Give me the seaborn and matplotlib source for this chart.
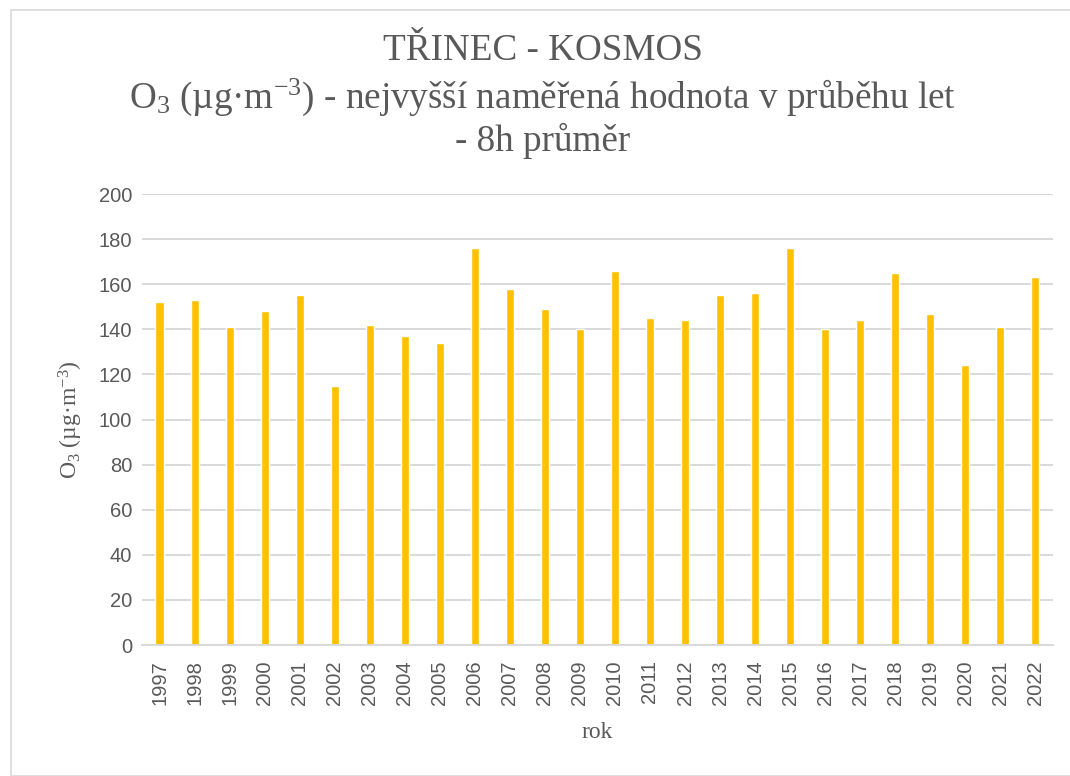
import pandas as pd
import seaborn as sns
import matplotlib.pyplot as plt
from matplotlib.patches import Rectangle

# data
years = [str(y) for y in range(1997, 2023)]
o3_max = [152, 153, 141, 148, 155, 115, 142, 137, 134, 176, 158, 149, 140,
          166, 145, 144, 155, 156, 176, 140, 144, 165, 147, 124, 141, 163]
y_ticks = [0, 20, 40, 60, 80, 100, 120, 140, 160, 180, 200]

df = pd.DataFrame({'rok': years, 'o3': o3_max})

sns.set_style('white')
plt.rcParams['font.family'] = ['Liberation Sans', 'DejaVu Sans']
plt.rcParams['mathtext.fontset'] = 'custom'
plt.rcParams['mathtext.rm'] = 'Liberation Serif'
plt.rcParams['mathtext.it'] = 'Liberation Serif:italic'

fig = plt.figure(figsize=(10.7, 7.76), dpi=100)
ax = fig.add_axes([0.1327, 0.1688, 0.8513, 0.5812])

sns.barplot(data=df, x='rok', y='o3', color='#FFC000', width=0.23,
            saturation=1, ax=ax)

ax.set_ylim(0, 200)
ax.set_yticks(y_ticks)
ax.yaxis.grid(True, color='#d9d9d9', linewidth=1.4)
ax.set_axisbelow(True)
for s in ['top', 'right', 'left']:
    ax.spines[s].set_visible(False)
ax.spines['bottom'].set_color('#d9d9d9')
ax.spines['bottom'].set_linewidth(1.4)
ax.tick_params(axis='both', length=0, labelsize=14.5, colors='#595959')
ax.tick_params(axis='y', pad=7)
ax.tick_params(axis='x', rotation=90, pad=11)

serif = ['Liberation Serif', 'DejaVu Serif']
ax.set_xlabel('rok', family=serif, fontsize=17, color='#595959', labelpad=12)
ax.set_ylabel(r'O$_3$ (µg·m$^{-3}$)', family=serif, fontsize=17,
              color='#595959', labelpad=10)

# title in three lines, centred a bit right of the figure centre
tx = 0.507
fig.text(tx, 0.935, 'TŘINEC - KOSMOS', ha='center', va='center',
         family=serif, fontsize=26.7, color='#595959')
fig.text(tx, 0.875, r'O$_3$ (µg·m$^{-3}$) - nejvyšší naměřená hodnota v průběhu let',
         ha='center', va='center', family=serif, fontsize=26.7, color='#595959')
fig.text(tx, 0.818, '- 8h průměr', ha='center', va='center',
         family=serif, fontsize=26.7, color='#595959')

fig.patches.append(Rectangle((0.01, 0.0), 0.995, 0.987, transform=fig.transFigure,
                             fill=False, edgecolor='#d9d9d9', linewidth=1.2))

fig.savefig('out.png', dpi=100)
